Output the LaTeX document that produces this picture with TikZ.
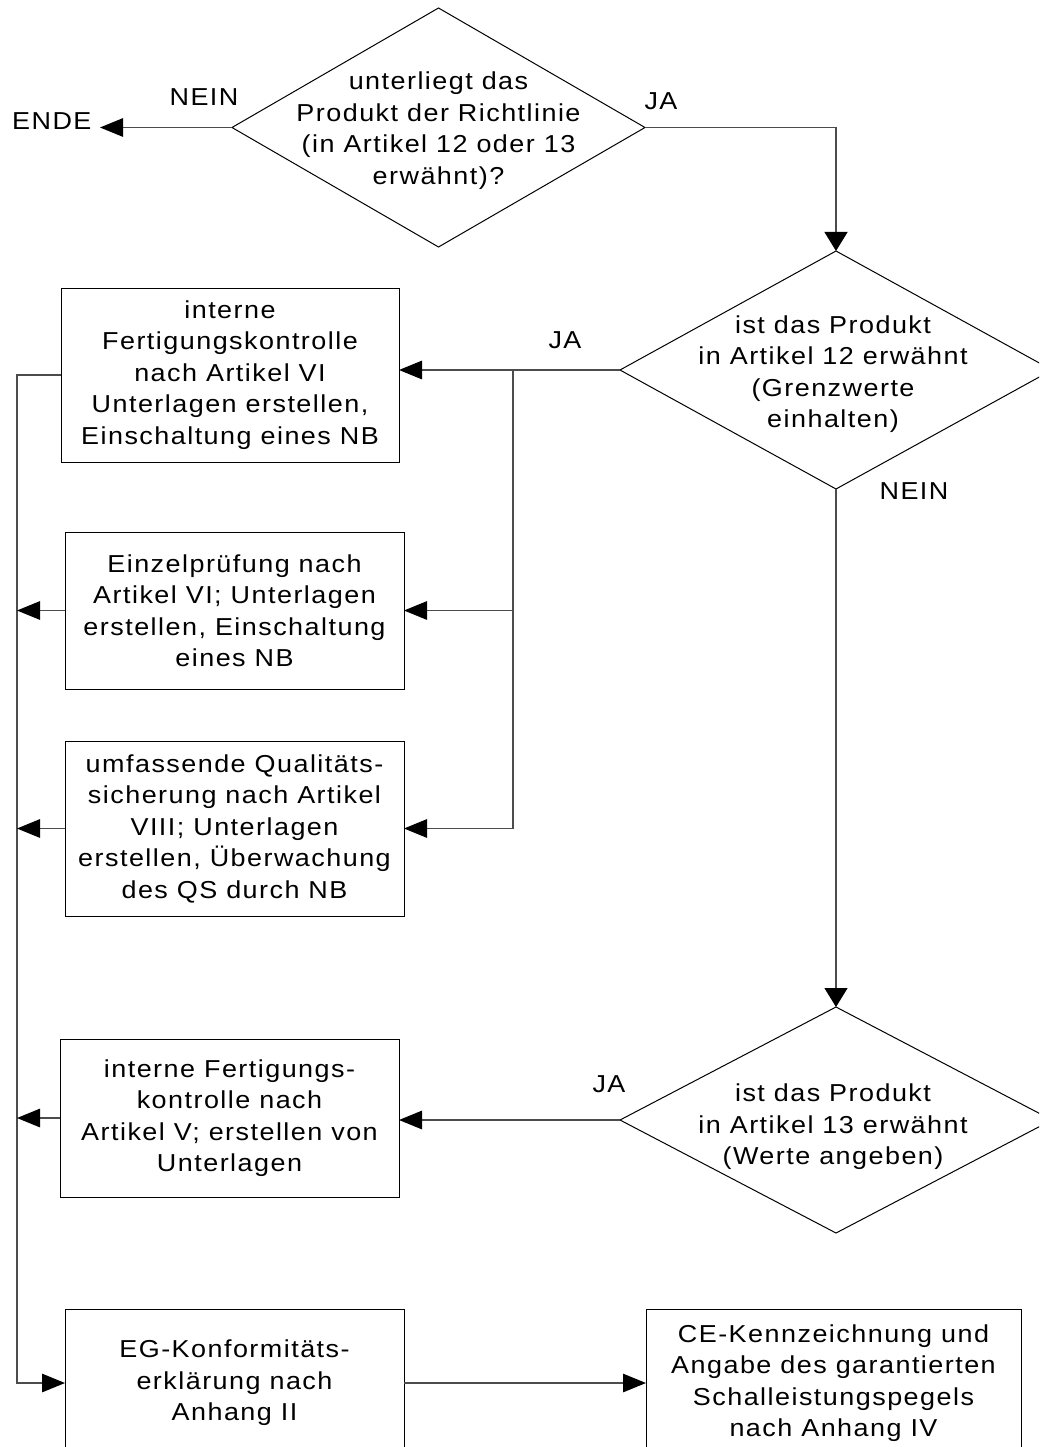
\documentclass[tikz,border=0pt]{standalone}
\usepackage{fontspec}
\setmainfont{Liberation Sans}[FakeStretch=1.1,LetterSpace=6]
\usetikzlibrary{shapes.geometric,arrows.meta}
\tikzset{
  txt/.style={font=\fontsize{24.5}{31.5}\selectfont, align=center, inner sep=0pt},
  boxnode/.style={txt, draw, line width=1pt, rectangle, outer sep=0pt},
  dia/.style={draw, diamond, inner sep=0pt, outer sep=0pt, line width=1pt},
  conn/.style={draw=black!70, line width=1.3pt},
  harrow/.style={conn, -{Triangle[length=23pt,width=18.5pt,color=black]}},
  varrow/.style={conn, -{Triangle[length=19pt,width=23pt,color=black]}},
}
\begin{document}
\begin{tikzpicture}[x=1pt,y=-1pt]
\useasboundingbox (0,0) rectangle (1039,1447);
\clip (0,0) rectangle (1039,1447);

% decisions
\node[dia, minimum width=413pt, minimum height=239pt] (d1) at (438.5,127.5) {};
\node[txt] (d1t) at (438.5,130.5) {unterliegt das\\Produkt der Richtlinie\\(in Artikel 12 oder 13\\erwähnt)?};

\node[dia, minimum width=432pt, minimum height=238pt] (d2) at (836,370) {};
\node[txt] (d2t) at (833,374) {ist das Produkt\\in Artikel 12 erwähnt\\(Grenzwerte\\einhalten)};

\node[dia, minimum width=432pt, minimum height=226pt] (d3) at (836,1120) {};
\node[txt] (d3t) at (833,1127) {ist das Produkt\\in Artikel 13 erwähnt\\(Werte angeben)};

% boxes
\node[boxnode, minimum width=338pt, minimum height=174pt] (b1) at (230,375)
  {interne\\Fertigungskontrolle\\nach Artikel VI\\Unterlagen erstellen,\\Einschaltung eines NB};
\node[boxnode, minimum width=339pt, minimum height=157pt] (b2) at (234.5,610.5)
  {Einzelprüfung nach\\Artikel VI; Unterlagen\\erstellen, Einschaltung\\eines NB};
\node[boxnode, minimum width=339pt, minimum height=175pt] (b3) at (234.5,828.5)
  {umfassende Qualitäts-\\sicherung nach Artikel\\VIII; Unterlagen\\erstellen, Überwachung\\des QS durch NB};
\node[boxnode, minimum width=339pt, minimum height=158pt] (b4) at (229.5,1118)
  {interne Fertigungs-\\kontrolle nach\\Artikel V; erstellen von\\Unterlagen};
\node[boxnode, minimum width=339pt, minimum height=148pt] (b5) at (234.5,1383)
  {EG-Konformitäts-\\erklärung nach\\Anhang II};
\node[boxnode, minimum width=375pt, minimum height=148pt] (b6) at (833.5,1383)
  {CE-Kennzeichnung und\\Angabe des garantierten\\Schalleistungspegels\\nach Anhang IV};

% labels
\node[txt, anchor=west] (ende) at (12,121) {ENDE};
\node[txt] (nein1) at (204,97) {NEIN};
\node[txt] (ja1) at (661,101) {JA};
\node[txt] (ja2) at (565,340) {JA};
\node[txt] (nein2) at (914,491) {NEIN};
\node[txt] (ja3) at (609,1084) {JA};

% junctions
\coordinate (endearrow) at (100,127.5);
\coordinate (j) at (513,370);
\coordinate (bus) at (17,375);

% connectors
\draw[harrow] (d1.west) -- (endearrow);
\draw[varrow] (d1.east) -- (d1.east -| d2.north) -- (d2.north);
\draw[harrow] (d2.west) -- (b1.east |- d2.west);
\draw[conn] (j) -- (j |- b3.east);
\draw[harrow] (j |- b2.east) -- (b2.east);
\draw[harrow] (j |- b3.east) -- (b3.east);
\draw[varrow] (d2.south) -- (d3.north);
\draw[harrow] (d3.west) -- (b4.east |- d3.west);

\draw[harrow] (b1.west) -- (bus) -- (bus |- b5.west) -- (b5.west);
\draw[harrow] (b2.west) -- (bus |- b2.west);
\draw[harrow] (b3.west) -- (bus |- b3.west);
\draw[harrow] (b4.west) -- (bus |- b4.west);
\draw[harrow] (b5.east) -- (b6.west);
\end{tikzpicture}
\end{document}
